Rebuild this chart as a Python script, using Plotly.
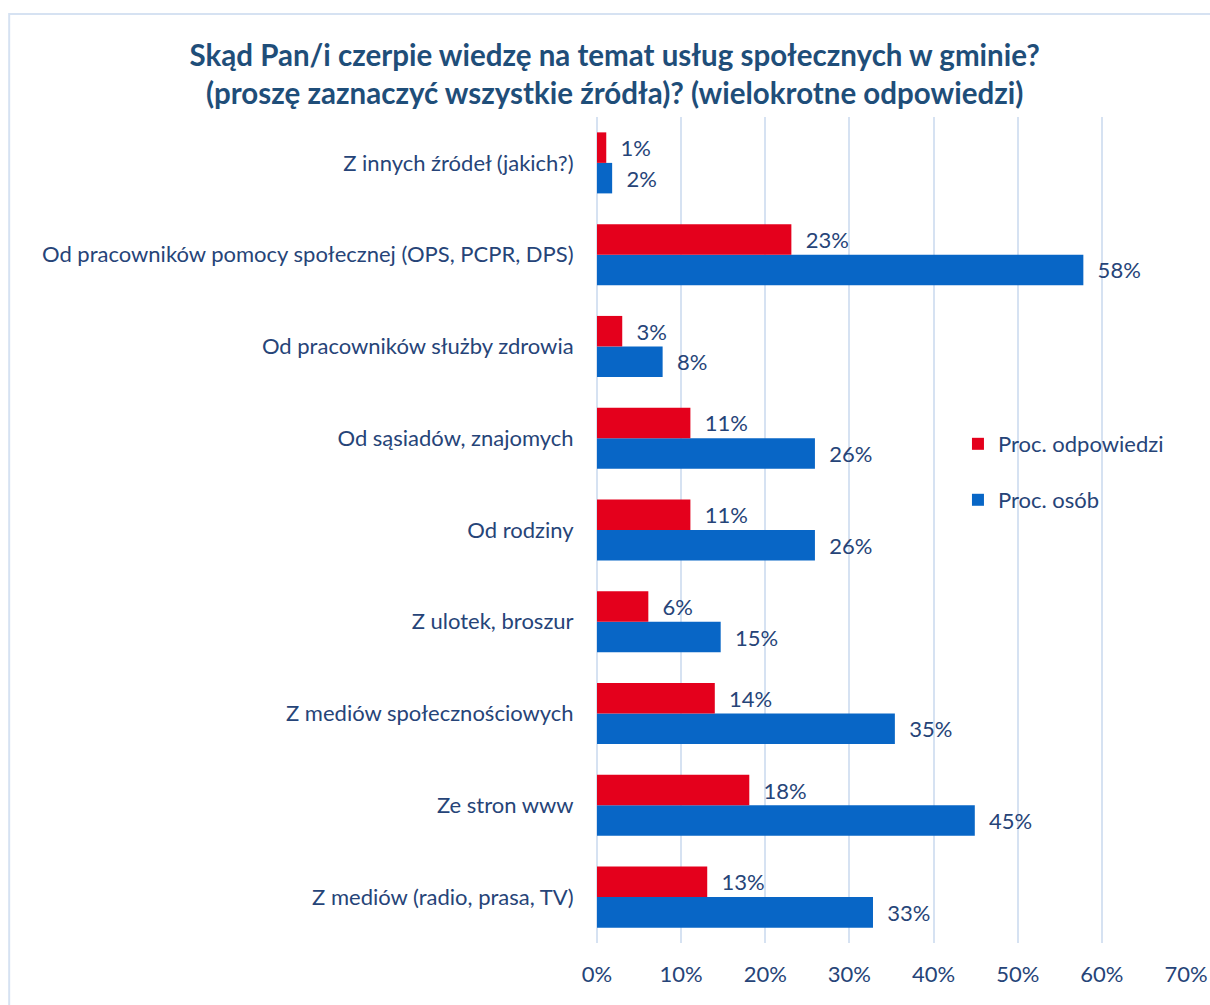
import plotly.graph_objects as go

categories = [
    "Z mediów (radio, prasa, TV)",
    "Ze stron www",
    "Z mediów społecznościowych",
    "Z ulotek, broszur",
    "Od rodziny",
    "Od sąsiadów, znajomych",
    "Od pracowników służby zdrowia",
    "Od pracowników pomocy społecznej (OPS, PCPR, DPS)",
    "Z innych źródeł (jakich?)",
]
proc_odpowiedzi = [0.131, 0.181, 0.140, 0.061, 0.111, 0.111, 0.030, 0.231, 0.011]
proc_osob = [0.328, 0.449, 0.354, 0.147, 0.259, 0.259, 0.078, 0.578, 0.018]
x_ticks = [0, 0.1, 0.2, 0.3, 0.4, 0.5, 0.6, 0.7]

FONT = "Lato"
NAVY = "#264478"
TITLE = "#1F4E79"
RED = "#E4001C"
BLUE = "#0866C6"
GRID = "#D6E2F2"
FS = 22

fig = go.Figure()
fig.add_trace(go.Bar(
    y=categories, x=proc_osob, orientation="h", name="Proc. osób",
    marker=dict(color=BLUE, line=dict(width=0)),
    text=[f"{round(v*100):.0f}%" for v in proc_osob],
    texttemplate="  %{text}", textposition="outside", cliponaxis=False,
    textfont=dict(family=FONT, size=FS, color=NAVY),
    legend="legend2",
))
fig.add_trace(go.Bar(
    y=categories, x=proc_odpowiedzi, orientation="h", name="Proc. odpowiedzi",
    marker=dict(color=RED, line=dict(width=0)),
    text=[f"{round(v*100):.0f}%" for v in proc_odpowiedzi],
    texttemplate="  %{text}", textposition="outside", cliponaxis=False,
    textfont=dict(family=FONT, size=FS, color=NAVY),
    legend="legend",
))

fig.update_layout(
    width=1210, height=1005,
    margin=dict(l=597, r=24, t=117, b=62, pad=0, autoexpand=False),
    paper_bgcolor="white", plot_bgcolor="white",
    barmode="group", bargap=0.335, bargroupgap=0,
    title=dict(
        text="<b>Skąd Pan/i czerpie wiedzę na temat usług społecznych w gminie?<br>(proszę zaznaczyć wszystkie źródła)? (wielokrotne odpowiedzi)</b>",
        x=0.508, xanchor="center", y=0.9343, yanchor="middle",
        font=dict(family=FONT, size=29.5, color=TITLE),
    ),
    font=dict(family=FONT, size=FS, color=NAVY),
    legend=dict(xref="container", yref="container", x=0.7917, xanchor="left",
                y=0.5582, yanchor="middle",
                bgcolor="rgba(0,0,0,0)", font=dict(family=FONT, size=FS, color=NAVY),
                itemwidth=30),
    legend2=dict(xref="container", yref="container", x=0.7917, xanchor="left",
                 y=0.5025, yanchor="middle",
                 bgcolor="rgba(0,0,0,0)", font=dict(family=FONT, size=FS, color=NAVY),
                 itemwidth=30),
    showlegend=True,
)
fig.update_xaxes(
    range=[0, 0.7], tickvals=x_ticks, tickformat=".0%",
    showgrid=True, gridcolor=GRID, gridwidth=1.5,
    zeroline=True, zerolinecolor=GRID, zerolinewidth=1.5,
    showline=False, ticks="outside", ticklen=12, tickcolor="rgba(0,0,0,0)",
    tickfont=dict(family=FONT, size=FS, color=NAVY), automargin=False,
)
fig.update_yaxes(
    showgrid=False, showline=False, ticks="outside", ticklen=18,
    tickcolor="rgba(0,0,0,0)",
    tickfont=dict(family=FONT, size=FS, color=NAVY), automargin=False,
)
fig.add_shape(type="rect", xref="paper", yref="paper",
              x0=-0.998, x1=1.2, y0=-0.2, y1=1.1247,
              line=dict(color=GRID, width=2), fillcolor="rgba(0,0,0,0)", layer="below")

fig.write_html("out.html",
               config={"displayModeBar": False},
               post_script="document.body.style.margin='0';document.body.style.overflow='hidden';")
